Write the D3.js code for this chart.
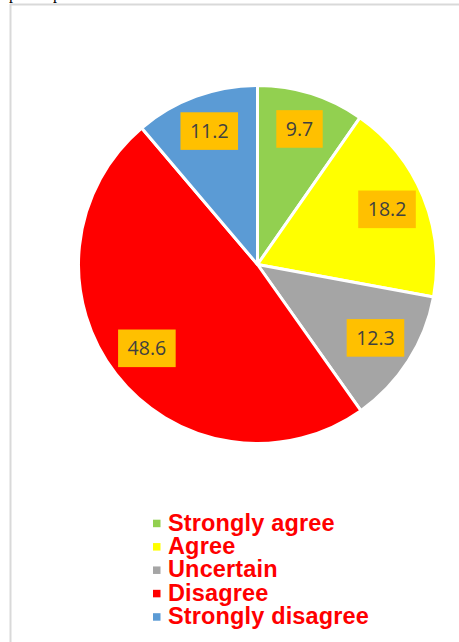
<!DOCTYPE html>
<html>
<head>
<meta charset="utf-8">
<script src="https://cdn.jsdelivr.net/npm/d3@7"></script>
<style>
  html, body { margin: 0; padding: 0; background: #fff; }
  svg { display: block; }
</style>
</head>
<body>
<svg id="chart" width="459" height="642"></svg>
<script>
const categories = ["Strongly agree", "Agree", "Uncertain", "Disagree", "Strongly disagree"];
const values = [9.7, 18.2, 12.3, 48.6, 11.2];
const colors = ["#92d050", "#ffff00", "#a5a5a5", "#ff0000", "#5b9bd5"];

const svg = d3.select("#chart");
const W = 459, H = 642;

// cut-off text fragments above the frame (descenders of a clipped title line)
svg.append("text").attr("x", 9).attr("y", -1).attr("font-family", "Liberation Serif")
  .attr("font-size", 16).attr("fill", "#000").text("p");
svg.append("text").attr("x", 53).attr("y", -1).attr("font-family", "Liberation Serif")
  .attr("font-size", 16).attr("fill", "#000").text("p");

// frame lines
svg.append("line").attr("x1", 10).attr("x2", W).attr("y1", 4.5).attr("y2", 4.5)
  .attr("stroke", "#d9d9d9").attr("stroke-width", 2);
svg.append("line").attr("x1", 10.5).attr("x2", 10.5).attr("y1", 4).attr("y2", H)
  .attr("stroke", "#d9d9d9").attr("stroke-width", 2);

const cx = 257.5, cy = 264.5, r = 179;
const data = categories.map((c, i) => ({ cat: c, value: values[i], color: colors[i] }));

const pie = d3.pie().value(d => d.value).sort(null);
const arcs = pie(data);
const arc = d3.arc().innerRadius(0).outerRadius(r);
const labelArc = d3.arc().innerRadius(140).outerRadius(140);

const g = svg.append("g").attr("transform", `translate(${cx},${cy})`);
g.selectAll("path.slice").data(arcs).enter().append("path")
  .attr("class", "slice")
  .attr("d", arc)
  .attr("fill", d => d.data.color)
  .attr("stroke", "#fff")
  .attr("stroke-width", 3)
  .attr("stroke-linejoin", "round");

const lg = g.selectAll("g.lbl").data(arcs).enter().append("g")
  .attr("class", "lbl")
  .attr("transform", d => { const [x, y] = labelArc.centroid(d); return `translate(${x},${y - 2})`; });
lg.each(function(d) {
  const sel = d3.select(this);
  const t = sel.append("text")
    .attr("text-anchor", "middle")
    .attr("dy", "0.36em")
    .attr("font-family", "Open Sans")
    .attr("font-size", 19.5)
    .attr("fill", "#404040")
    .text(d.data.value.toFixed(1));
  const bb = t.node().getBBox();
  sel.insert("rect", "text")
    .attr("x", -bb.width / 2 - 9.5)
    .attr("y", -18.8)
    .attr("width", bb.width + 19)
    .attr("height", 37.6)
    .attr("fill", "#ffc000");
});

// legend
const legY = d3.scalePoint().domain(categories).range([530.7, 624.2]);
const leg = svg.append("g");
const items = leg.selectAll("g").data(data).enter().append("g")
  .attr("transform", d => `translate(0,${legY(d.cat)})`);
items.append("rect")
  .attr("x", 153).attr("y", -11).attr("width", 7.5).attr("height", 7.5)
  .attr("fill", d => d.color);
items.append("text")
  .attr("x", 168).attr("y", 0)
  .attr("font-family", "Liberation Sans, Arial, sans-serif")
  .attr("font-weight", "bold")
  .attr("font-size", 23.5)
  .attr("letter-spacing", 0.15)
  .attr("fill", "#ff0000")
  .text(d => d.cat);
</script>
</body>
</html>
